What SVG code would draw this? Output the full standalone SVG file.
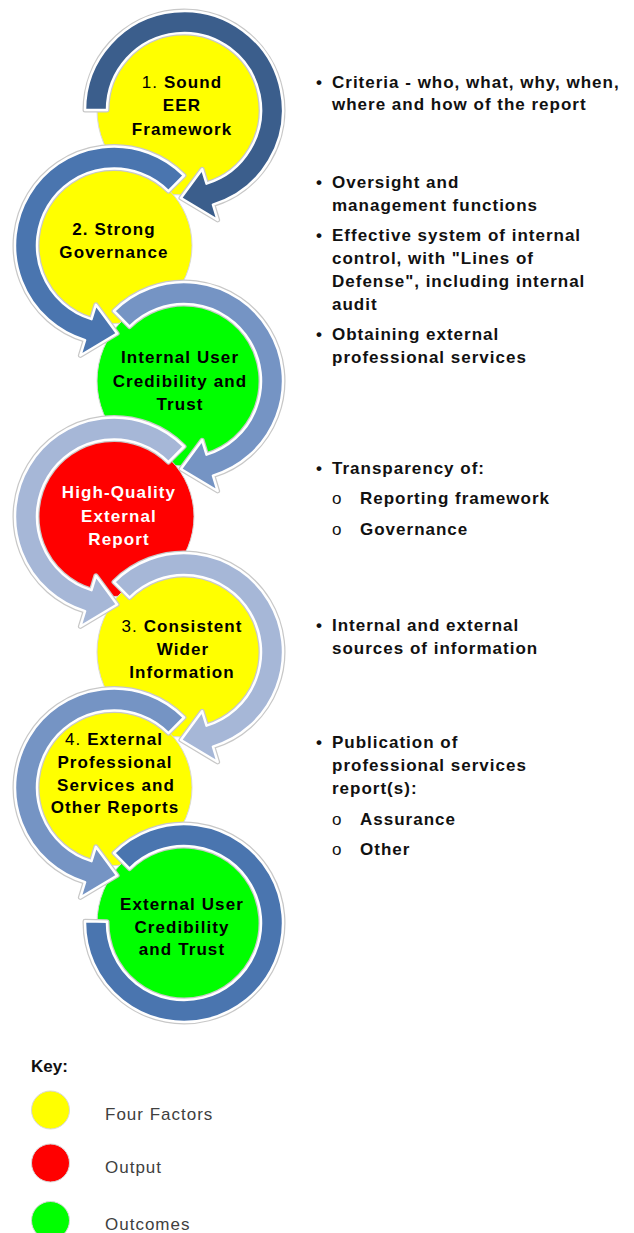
<svg xmlns="http://www.w3.org/2000/svg" xmlns:xlink="http://www.w3.org/1999/xlink" width="634" height="1233" viewBox="0 0 634 1233">
<style>
.bg{fill:#ffffff}
.yel{fill:#FFFF00;stroke:#d8d8d8;stroke-width:1}
.grn{fill:#00FF00;stroke:#d8d8d8;stroke-width:1}
.red{fill:#FF0000;stroke:#d8d8d8;stroke-width:1}
.nt{font-family:"Liberation Sans",Arial,sans-serif;font-weight:bold;font-size:17px;letter-spacing:1.1px;text-anchor:middle;fill:#000}
.nt .n{font-weight:normal}
.wt{fill:#fff}
.halo{fill:none;stroke:#c8c8c8;stroke-width:5;stroke-linejoin:round}
.ring{stroke:#ffffff;stroke-width:2.5;stroke-linejoin:round}
.c1{fill:#3B5E8C}.c2{fill:#4A75AF}.c3{fill:#7594C4}.c4{fill:#A6B7D7}
.rt{font-family:"Liberation Sans",Arial,sans-serif;font-weight:bold;font-size:17px;letter-spacing:1px;fill:#111}
.sb{font-family:"Liberation Sans",Arial,sans-serif;font-weight:normal;font-size:17px;fill:#111}
.kt{font-family:"Liberation Sans",Arial,sans-serif;font-size:17px;letter-spacing:1px;fill:#404040}
.kh{font-family:"Liberation Sans",Arial,sans-serif;font-size:17px;font-weight:bold;fill:#111}
</style>
<defs>
<path id="r1" d="M85,110 A99,99 0 1 1 212.95,204.67 L217.63,219.97 L180.93,197.95 L202.13,169.29 L206.51,183.63 A77,77 0 1 0 107,110 Z"/>
<path id="r2" d="M184,175.5 A99,99 0 1 0 85.05,340.17 L80.37,355.47 L117.07,333.45 L95.87,304.79 L91.49,319.13 A77,77 0 1 1 168.45,191.05 Z"/>
<path id="r3" d="M114,311 A99,99 0 1 1 212.95,475.67 L217.63,490.97 L180.93,468.95 L202.13,440.29 L206.51,454.63 A77,77 0 1 0 129.55,326.55 Z"/>
<path id="r4" d="M184,446.5 A99,99 0 1 0 85.05,611.17 L80.37,626.47 L117.07,604.45 L95.87,575.79 L91.49,590.13 A77,77 0 1 1 168.45,462.05 Z"/>
<path id="r5" d="M114,582 A99,99 0 1 1 212.95,746.67 L217.63,761.97 L180.93,739.95 L202.13,711.29 L206.51,725.63 A77,77 0 1 0 129.55,597.55 Z"/>
<path id="r6" d="M184,717.5 A99,99 0 1 0 85.05,882.17 L80.37,897.47 L117.07,875.45 L95.87,846.79 L91.49,861.13 A77,77 0 1 1 168.45,733.05 Z"/>
<path id="r7" d="M114,853 A99,99 0 1 1 85.02,921.27 L107.01,921.66 A77,77 0 1 0 129.55,868.55 Z"/>
</defs>
<rect class="bg" x="0" y="0" width="634" height="1233"/>

<g id="node1">
<circle class="yel" cx="182" cy="110" r="85"/>
<text class="nt" x="182" y="88"><tspan class="n">1.</tspan> Sound</text>
<text class="nt" x="182" y="111">EER</text>
<text class="nt" x="182" y="135">Framework</text>
</g>
<g id="node2">
<circle class="yel" cx="114" cy="245.5" r="78"/>
<text class="nt" x="114" y="235">2. Strong</text>
<text class="nt" x="114" y="258">Governance</text>
</g>
<g id="node3">
<circle class="grn" cx="182" cy="381" r="85"/>
<text class="nt" x="180" y="363">Internal User</text>
<text class="nt" x="180" y="387">Credibility and</text>
<text class="nt" x="180" y="410">Trust</text>
</g>
<g id="node4">
<circle class="red" cx="114" cy="516.5" r="80"/>
<text class="nt wt" x="119" y="498">High-Quality</text>
<text class="nt wt" x="119" y="522">External</text>
<text class="nt wt" x="119" y="545">Report</text>
</g>
<g id="node5">
<circle class="yel" cx="182" cy="652" r="85"/>
<text class="nt" x="182" y="632"><tspan class="n">3.</tspan> Consistent</text>
<text class="nt" x="183" y="655">Wider</text>
<text class="nt" x="182" y="678">Information</text>
</g>
<g id="node6">
<circle class="yel" cx="114" cy="787.5" r="78"/>
<text class="nt" x="114" y="745"><tspan class="n">4.</tspan> External</text>
<text class="nt" x="115" y="768">Professional</text>
<text class="nt" x="116" y="791">Services and</text>
<text class="nt" x="115" y="813">Other Reports</text>
</g>
<g id="node7">
<circle class="grn" cx="182" cy="923" r="85"/>
<text class="nt" x="182" y="910">External User</text>
<text class="nt" x="182" y="933">Credibility</text>
<text class="nt" x="182" y="955">and Trust</text>
</g>

<g id="connectors">
<use xlink:href="#r1" href="#r1" class="halo"/><use xlink:href="#r1" href="#r1" class="ring c1"/>
<use xlink:href="#r2" href="#r2" class="halo"/><use xlink:href="#r2" href="#r2" class="ring c2"/>
<use xlink:href="#r3" href="#r3" class="halo"/><use xlink:href="#r3" href="#r3" class="ring c3"/>
<use xlink:href="#r4" href="#r4" class="halo"/><use xlink:href="#r4" href="#r4" class="ring c4"/>
<use xlink:href="#r5" href="#r5" class="halo"/><use xlink:href="#r5" href="#r5" class="ring c4"/>
<use xlink:href="#r6" href="#r6" class="halo"/><use xlink:href="#r6" href="#r6" class="ring c3"/>
<use xlink:href="#r7" href="#r7" class="halo"/><use xlink:href="#r7" href="#r7" class="ring c2"/>
</g>

<g id="notes">
<text class="rt" x="316" y="88">•</text>
<text class="rt" x="332" y="88">Criteria - who, what, why, when,</text>
<text class="rt" x="332" y="110">where and how of the report</text>
<text class="rt" x="316" y="188">•</text>
<text class="rt" x="332" y="188">Oversight and</text>
<text class="rt" x="332" y="211">management functions</text>
<text class="rt" x="316" y="241">•</text>
<text class="rt" x="332" y="241">Effective system of internal</text>
<text class="rt" x="332" y="264">control, with "Lines of</text>
<text class="rt" x="332" y="287">Defense", including internal</text>
<text class="rt" x="332" y="310">audit</text>
<text class="rt" x="316" y="340">•</text>
<text class="rt" x="332" y="340">Obtaining external</text>
<text class="rt" x="332" y="363">professional services</text>
<text class="rt" x="316" y="474">•</text>
<text class="rt" x="332" y="474">Transparency of:</text>
<text class="sb" x="332" y="504">o</text>
<text class="rt" x="360" y="504">Reporting framework</text>
<text class="sb" x="332" y="535">o</text>
<text class="rt" x="360" y="535">Governance</text>
<text class="rt" x="316" y="631">•</text>
<text class="rt" x="332" y="631">Internal and external</text>
<text class="rt" x="332" y="654">sources of information</text>
<text class="rt" x="316" y="748">•</text>
<text class="rt" x="332" y="748">Publication of</text>
<text class="rt" x="332" y="771">professional services</text>
<text class="rt" x="332" y="794">report(s):</text>
<text class="sb" x="332" y="825">o</text>
<text class="rt" x="360" y="825">Assurance</text>
<text class="sb" x="332" y="855">o</text>
<text class="rt" x="360" y="855">Other</text>
</g>

<g id="key">
<text class="kh" x="31" y="1072">Key:</text>
<circle class="yel" cx="50.5" cy="1110" r="19"/>
<text class="kt" x="105" y="1120">Four Factors</text>
<circle class="red" cx="50.5" cy="1163" r="19"/>
<text class="kt" x="105" y="1173">Output</text>
<circle class="grn" cx="50.5" cy="1220.5" r="19"/>
<text class="kt" x="105" y="1230">Outcomes</text>
</g>
</svg>
